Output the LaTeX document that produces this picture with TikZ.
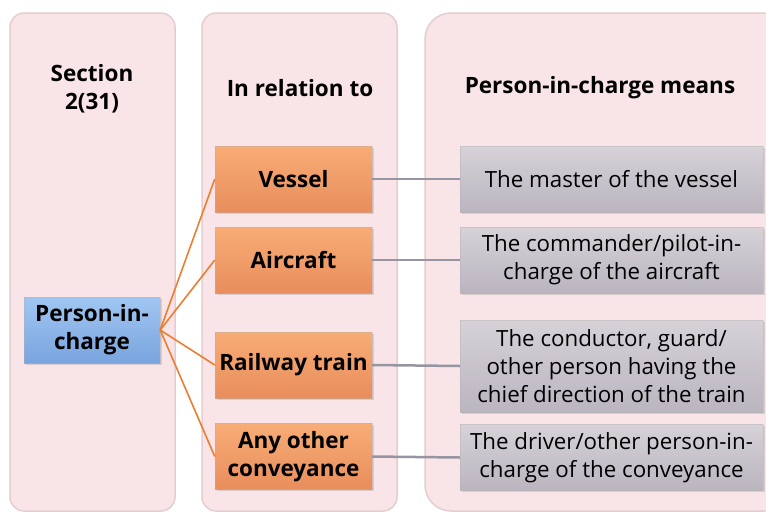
\documentclass[tikz,border=0pt]{standalone}
\usepackage{fontspec}
\setmainfont{Open Sans}
\usetikzlibrary{shadows}
\definecolor{panelpink}{RGB}{249,229,231}
\definecolor{paneledge}{RGB}{228,205,208}
\definecolor{orangetop}{RGB}{248,172,118}
\definecolor{orangebot}{RGB}{232,142,92}
\definecolor{bluetop}{RGB}{160,198,242}
\definecolor{bluebot}{RGB}{122,164,222}
\definecolor{graytop}{RGB}{214,210,216}
\definecolor{graybot}{RGB}{186,181,191}
\definecolor{linkorange}{RGB}{237,125,49}
\definecolor{linkgray}{RGB}{150,150,162}
\tikzset{
  panel/.style = {fill=panelpink, draw=paneledge, line width=1.5pt},% colonne
  heading/.style = {align=center, font=\bfseries\fontsize{22.5}{28}\selectfont,
    inner sep=0pt},
  pcbox/.style = {rectangle, align=center, inner sep=1pt, text=black,
    draw=white!70!black, draw opacity=0.4,
    drop shadow={opacity=0.25, shadow xshift=1.5pt, shadow yshift=-1.5pt}},
  topic/.style = {pcbox, top color=bluetop, bottom color=bluebot,
    font=\bfseries\fontsize{22.5}{28}\selectfont,
    minimum width=136pt, minimum height=66pt},% noeud bleu
  kind/.style = {pcbox, top color=orangetop, bottom color=orangebot,
    font=\bfseries\fontsize{22.5}{28}\selectfont,
    minimum width=157pt, minimum height=66pt},% noeud orange
  means/.style = {pcbox, top color=graytop, bottom color=graybot,
    font=\fontsize{22.3}{28}\selectfont,
    minimum width=303pt, minimum height=66pt},% noeud gris
  fan/.style = {linkorange, line width=1.6pt},
  tie/.style = {linkgray, line width=2.5pt}
}

\begin{document}
\begin{tikzpicture}[x=1pt,y=-1pt]
\useasboundingbox (0,0) rectangle (766,512);
% colonnes
\draw [panel, rounded corners=14pt] (10,13) rectangle (175,511);
\draw [panel, rounded corners=14pt] (202,13) rectangle (397,511);
\draw [panel, rounded corners=26pt] (425,13) rectangle (790,511);
% titres
\node [heading] (sec) at (92,89) {Section\\2(31)};
\node [heading] (rel) at (300,88) {In relation to};
\node [heading] (mean) at (600,88) {Person-in-charge means};
% noeuds
\node [topic] (pic) at (92,330) {Person-in-\\charge};
\node [kind] (vessel) at (293.5,179) {Vessel};
\node [kind] (aircraft) at (293.5,260) {Aircraft};
\node [kind] (train) at (293.5,365) {Railway train};
\node [kind] (other) at (293.5,456.5) {Any other\\conveyance};
\node [means] (master) at (611.5,179) {The master of the vessel};
\node [means] (pilot) at (611.5,260) {The commander/pilot-in-\\charge of the aircraft};
\node [means, minimum height=92pt] (guard) at (611.5,366)
  {The conductor, guard/\\other person having the\\chief direction of the train};
\node [means] (driver) at (611.5,457.5) {The driver/other person-in-\\charge of the conveyance};
% liens
\foreach \k in {vessel,aircraft,train,other}
  \draw [fan] (pic.east) -- (\k.west);
\draw [tie] (vessel.east) -- (master.west);
\draw [tie] (aircraft.east) -- (pilot.west);
\draw [tie] (train.east) -- (guard.west);
\draw [tie] (other.east) -- (driver.west);
\end{tikzpicture}
\end{document}
